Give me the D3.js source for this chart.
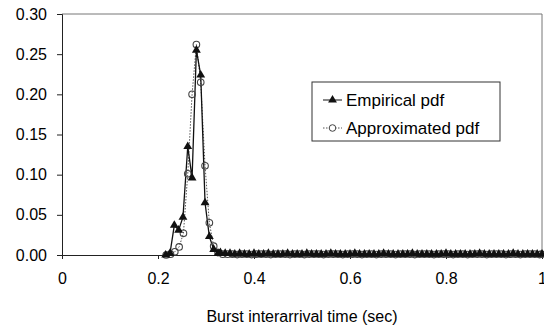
<!DOCTYPE html>
<html>
<head>
<meta charset="utf-8">
<script src="https://cdn.jsdelivr.net/npm/d3@7"></script>
<style>
    html, body { margin: 0; padding: 0; background: #fff; }
    svg text { font-family: "Liberation Sans", Arial, sans-serif; fill: #000; }
</style>
</head>
<body>
<div id="chart"></div>
<script>
// Peak region
const empTimes = [0.216, 0.225, 0.234, 0.243, 0.252, 0.262, 0.271, 0.280, 0.289, 0.298, 0.307, 0.316, 0.325];
const empValues = [0.000, 0.002, 0.037, 0.031, 0.047, 0.135, 0.096, 0.255, 0.224, 0.065, 0.023, 0.007, 0.002];
const apxTimes = [0.217, 0.226, 0.235, 0.244, 0.253, 0.262, 0.271, 0.280, 0.289, 0.298, 0.307, 0.316, 0.325];
const apxValues = [0.000, 0.001, 0.004, 0.010, 0.027, 0.101, 0.200, 0.262, 0.215, 0.111, 0.040, 0.011, 0.003];

// Long flat tail near zero (empirical and approximated sampled half a step apart)
const empTailTimes = [0.33, 0.34, 0.35, 0.36, 0.37, 0.38, 0.39, 0.40, 0.41, 0.42,
    0.43, 0.44, 0.45, 0.46, 0.47, 0.48, 0.49, 0.50, 0.51, 0.52,
    0.53, 0.54, 0.55, 0.56, 0.57, 0.58, 0.59, 0.60, 0.61, 0.62,
    0.63, 0.64, 0.65, 0.66, 0.67, 0.68, 0.69, 0.70, 0.71, 0.72,
    0.73, 0.74, 0.75, 0.76, 0.77, 0.78, 0.79, 0.80, 0.81, 0.82,
    0.83, 0.84, 0.85, 0.86, 0.87, 0.88, 0.89, 0.90, 0.91, 0.92,
    0.93, 0.94, 0.95, 0.96, 0.97, 0.98, 0.99, 1.00];
const apxTailTimes = [0.335, 0.345, 0.355, 0.365, 0.375, 0.385, 0.395, 0.405, 0.415, 0.425,
    0.435, 0.445, 0.455, 0.465, 0.475, 0.485, 0.495, 0.505, 0.515, 0.525,
    0.535, 0.545, 0.555, 0.565, 0.575, 0.585, 0.595, 0.605, 0.615, 0.625,
    0.635, 0.645, 0.655, 0.665, 0.675, 0.685, 0.695, 0.705, 0.715, 0.725,
    0.735, 0.745, 0.755, 0.765, 0.775, 0.785, 0.795, 0.805, 0.815, 0.825,
    0.835, 0.845, 0.855, 0.865, 0.875, 0.885, 0.895, 0.905, 0.915, 0.925,
    0.935, 0.945, 0.955, 0.965, 0.975, 0.985, 0.995, 0.999];
const empTail = [0.003, 0.002, 0.002, 0.001, 0.002, 0.001, 0.001, 0.002, 0.001, 0.001,
    0.002, 0.001, 0.001, 0.001, 0.002, 0.001, 0.001, 0.001, 0.002, 0.001,
    0.001, 0.001, 0.001, 0.002, 0.001, 0.001, 0.001, 0.001, 0.002, 0.001,
    0.001, 0.001, 0.001, 0.001, 0.002, 0.001, 0.001, 0.001, 0.001, 0.001,
    0.002, 0.001, 0.001, 0.001, 0.001, 0.001, 0.001, 0.002, 0.001, 0.001,
    0.001, 0.001, 0.001, 0.001, 0.002, 0.001, 0.001, 0.001, 0.001, 0.001,
    0.001, 0.002, 0.001, 0.001, 0.001, 0.001, 0.001, 0.001];
const apxTail = [0.001, 0.001, 0.001, 0.0005, 0.001, 0.001, 0.0005, 0.001, 0.001, 0.001,
    0.0005, 0.001, 0.001, 0.001, 0.0005, 0.001, 0.001, 0.0005, 0.001, 0.001,
    0.001, 0.0005, 0.001, 0.001, 0.001, 0.0005, 0.001, 0.001, 0.001, 0.0005,
    0.001, 0.001, 0.0005, 0.001, 0.001, 0.001, 0.0005, 0.001, 0.001, 0.001,
    0.0005, 0.001, 0.001, 0.001, 0.0005, 0.001, 0.001, 0.001, 0.0005, 0.001,
    0.001, 0.0005, 0.001, 0.001, 0.001, 0.0005, 0.001, 0.001, 0.001, 0.0005,
    0.001, 0.001, 0.0005, 0.001, 0.001, 0.001, 0.0005, 0.001];

const xTicks = [0, 0.2, 0.4, 0.6, 0.8, 1];
const yTicks = [0, 0.05, 0.10, 0.15, 0.20, 0.25, 0.30];
const seriesNames = ['Empirical pdf', 'Approximated pdf'];
const xTitle = 'Burst interarrival time (sec)';

const width = 544, height = 326;
const margin = { top: 14, right: 2, bottom: 71, left: 62 };

const empData = empTimes.map((t, i) => ({ t, v: empValues[i] }))
    .concat(empTailTimes.map((t, i) => ({ t, v: empTail[i] })));
const apxData = apxTimes.map((t, i) => ({ t, v: apxValues[i] }))
    .concat(apxTailTimes.map((t, i) => ({ t, v: apxTail[i] })));

const svg = d3.select('#chart').append('svg')
    .attr('width', width)
    .attr('height', height);

const x = d3.scaleLinear().domain([0, 1]).range([margin.left, width - margin.right]);
const y = d3.scaleLinear().domain([0, 0.30]).range([height - margin.bottom, margin.top]);

// frame (top + right, faint)
svg.append('path')
    .attr('d', `M${x(0)},${y(0.30)}H${x(1)}V${y(0)}`)
    .attr('fill', 'none')
    .attr('stroke', '#777')
    .attr('stroke-width', 1);

// axes
const yAxis = svg.append('g')
    .attr('transform', `translate(${x(0)},0)`)
    .call(d3.axisLeft(y).tickValues(yTicks).tickFormat(d3.format('.2f')).tickSize(5).tickPadding(10));
const xAxis = svg.append('g')
    .attr('transform', `translate(0,${y(0)})`)
    .call(d3.axisBottom(x).tickValues(xTicks).tickFormat(d => d === 0 || d === 1 ? d : d3.format('.1f')(d)).tickSize(4).tickPadding(14));
[yAxis, xAxis].forEach(g => {
    g.select('.domain').attr('stroke', '#222');
    g.selectAll('.tick line').attr('stroke', '#222');
    g.selectAll('text').style('font-size', '16px').attr('fill', '#000');
});

svg.append('text')
    .attr('x', 302)
    .attr('y', 322)
    .attr('text-anchor', 'middle')
    .style('font-size', '16px')
    .text(xTitle);

// approximated: dotted grey line + open circles
svg.append('path')
    .datum(apxData)
    .attr('fill', 'none')
    .attr('stroke', '#555')
    .attr('stroke-width', 1)
    .attr('stroke-dasharray', '1.5,1.5')
    .attr('d', d3.line().x(d => x(d.t)).y(d => y(d.v)));

// empirical: solid black line + filled triangles
svg.append('path')
    .datum(empData)
    .attr('fill', 'none')
    .attr('stroke', '#111')
    .attr('stroke-width', 1.3)
    .attr('d', d3.line().x(d => x(d.t)).y(d => y(d.v)));

const tri = d3.symbol().type(d3.symbolTriangle).size(34);

svg.append('g').selectAll('circle')
    .data(apxData)
    .join('circle')
    .attr('cx', d => x(d.t))
    .attr('cy', d => y(d.v))
    .attr('r', 3.3)
    .attr('fill', 'none')
    .attr('stroke', '#444')
    .attr('stroke-width', 1.1);

svg.append('g').selectAll('path')
    .data(empData)
    .join('path')
    .attr('d', tri)
    .attr('transform', d => `translate(${x(d.t)},${y(d.v)})`)
    .attr('fill', '#111');

// legend
const lg = svg.append('g').attr('transform', 'translate(312,82)');
lg.append('rect')
    .attr('width', 188)
    .attr('height', 59)
    .attr('fill', '#fff')
    .attr('stroke', '#333');
seriesNames.forEach((name, i) => {
    const yy = 18 + i * 28;
    lg.append('line')
        .attr('x1', 11).attr('x2', 30).attr('y1', yy).attr('y2', yy)
        .attr('stroke', i === 0 ? '#111' : '#555')
        .attr('stroke-dasharray', i === 0 ? null : '1.5,1.5');
    if (i === 0) {
        lg.append('path').attr('d', tri).attr('transform', `translate(20.5,${yy})`).attr('fill', '#111');
    } else {
        lg.append('circle').attr('cx', 20.5).attr('cy', yy).attr('r', 3.3)
            .attr('fill', '#fff').attr('stroke', '#444');
    }
    lg.append('text')
        .attr('x', 34)
        .attr('y', yy + 6)
        .style('font-size', '17px')
        .text(name);
});
</script>
</body>
</html>
